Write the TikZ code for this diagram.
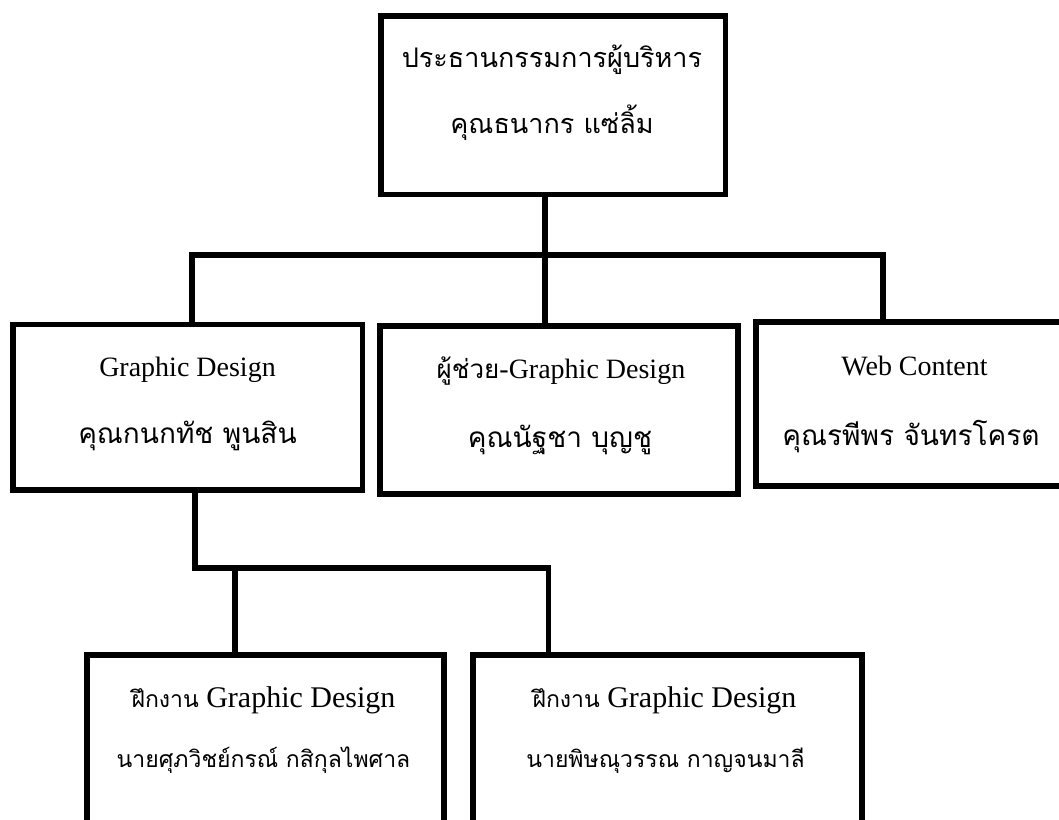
\documentclass[tikz,border=0pt]{standalone}
\usepackage{fontspec}
\setmainfont{Liberation Serif}
\newfontfamily\thaifont[Script=Thai]{Loma}
\begin{document}
\begin{tikzpicture}[x=1pt,y=-1pt,
  box/.style={draw=black,line width=5.5pt,rectangle,inner sep=0pt,fill=white},
  conn/.style={draw=black,line width=5.5pt,line join=miter},
  lat/.style={anchor=base,inner sep=0pt,font=\fontsize{28}{30}\selectfont},
  latb/.style={anchor=base,inner sep=0pt,font=\fontsize{30}{32}\selectfont},
  tht/.style={anchor=base,inner sep=0pt,font=\thaifont\fontsize{27}{29}\selectfont},
  tha/.style={anchor=base,inner sep=0pt,font=\thaifont\fontsize{28}{30}\selectfont},
  thb/.style={anchor=base,inner sep=0pt,font=\thaifont\fontsize{23}{25}\selectfont}]
\useasboundingbox (0,0) rectangle (1059,819);
% boxes
\node[box,minimum width=344.5pt,minimum height=178.5pt] (ceo) at (553,105) {};
\node[box,minimum width=349.5pt,minimum height=165.5pt] (gd) at (187.5,407) {};
\node[box,minimum width=358pt,minimum height=168pt] (asst) at (559,410) {};
\node[box,minimum width=312pt,minimum height=164pt] (web) at (912,404) {};
\node[box,minimum width=357pt,minimum height=175pt] (tr1) at (265.5,742.5) {};
\node[box,minimum width=389pt,minimum height=175pt] (tr2) at (667.5,742.5) {};
% junctions
\coordinate (j1) at (192,255);
\coordinate (j1r) at (883,255);
\coordinate (j2) at (195,568);
\coordinate (j2r) at (548.5,568);
\coordinate (j3) at (235,568);
% connectors
\draw[conn] (ceo.south -| 545,0) -- (asst.north -| 545,0);
\draw[conn] (j1 |- gd.north) -- (j1) -- (j1r) -- (j1r |- web.north);
\draw[conn] (j2 |- gd.south) -- (j2) -- (j2r) -- (j2r |- tr2.north);
\draw[conn] (j3) -- (j3 |- tr1.north);
% texts
\node[tht] (ceo1) at (552,67) {ประธานกรรมการผู้บริหาร};
\node[tht] (ceo2) at (552,133) {คุณธนากร แซ่ลิ้ม};
\node[lat] (gd1) at (187.5,376) {Graphic Design};
\node[tha] (gd2) at (187.5,443) {คุณกนกทัช พูนสิน};
\node[lat] (as1) at (561,378) {{\thaifont\fontsize{26}{28}\selectfont ผู้ช่วย}-Graphic Design};
\node[tha] (as2) at (560,447) {คุณนัฐชา บุญชู};
\node[lat] (wc1) at (914.5,375) {Web Content};
\node[tha] (wc2) at (911,445) {คุณรพีพร จันทรโครต};
\node[latb] (t11) at (263.5,707) {{\thaifont\fontsize{23}{25}\selectfont ฝึกงาน} Graphic Design};
\node[thb] (t12) at (263.5,767) {นายศุภวิชย์กรณ์ กสิกุลไพศาล};
\node[latb] (t21) at (664.5,707) {{\thaifont\fontsize{23}{25}\selectfont ฝึกงาน} Graphic Design};
\node[thb] (t22) at (665.5,767) {นายพิษณุวรรณ กาญจนมาลี};
\end{tikzpicture}
\end{document}
